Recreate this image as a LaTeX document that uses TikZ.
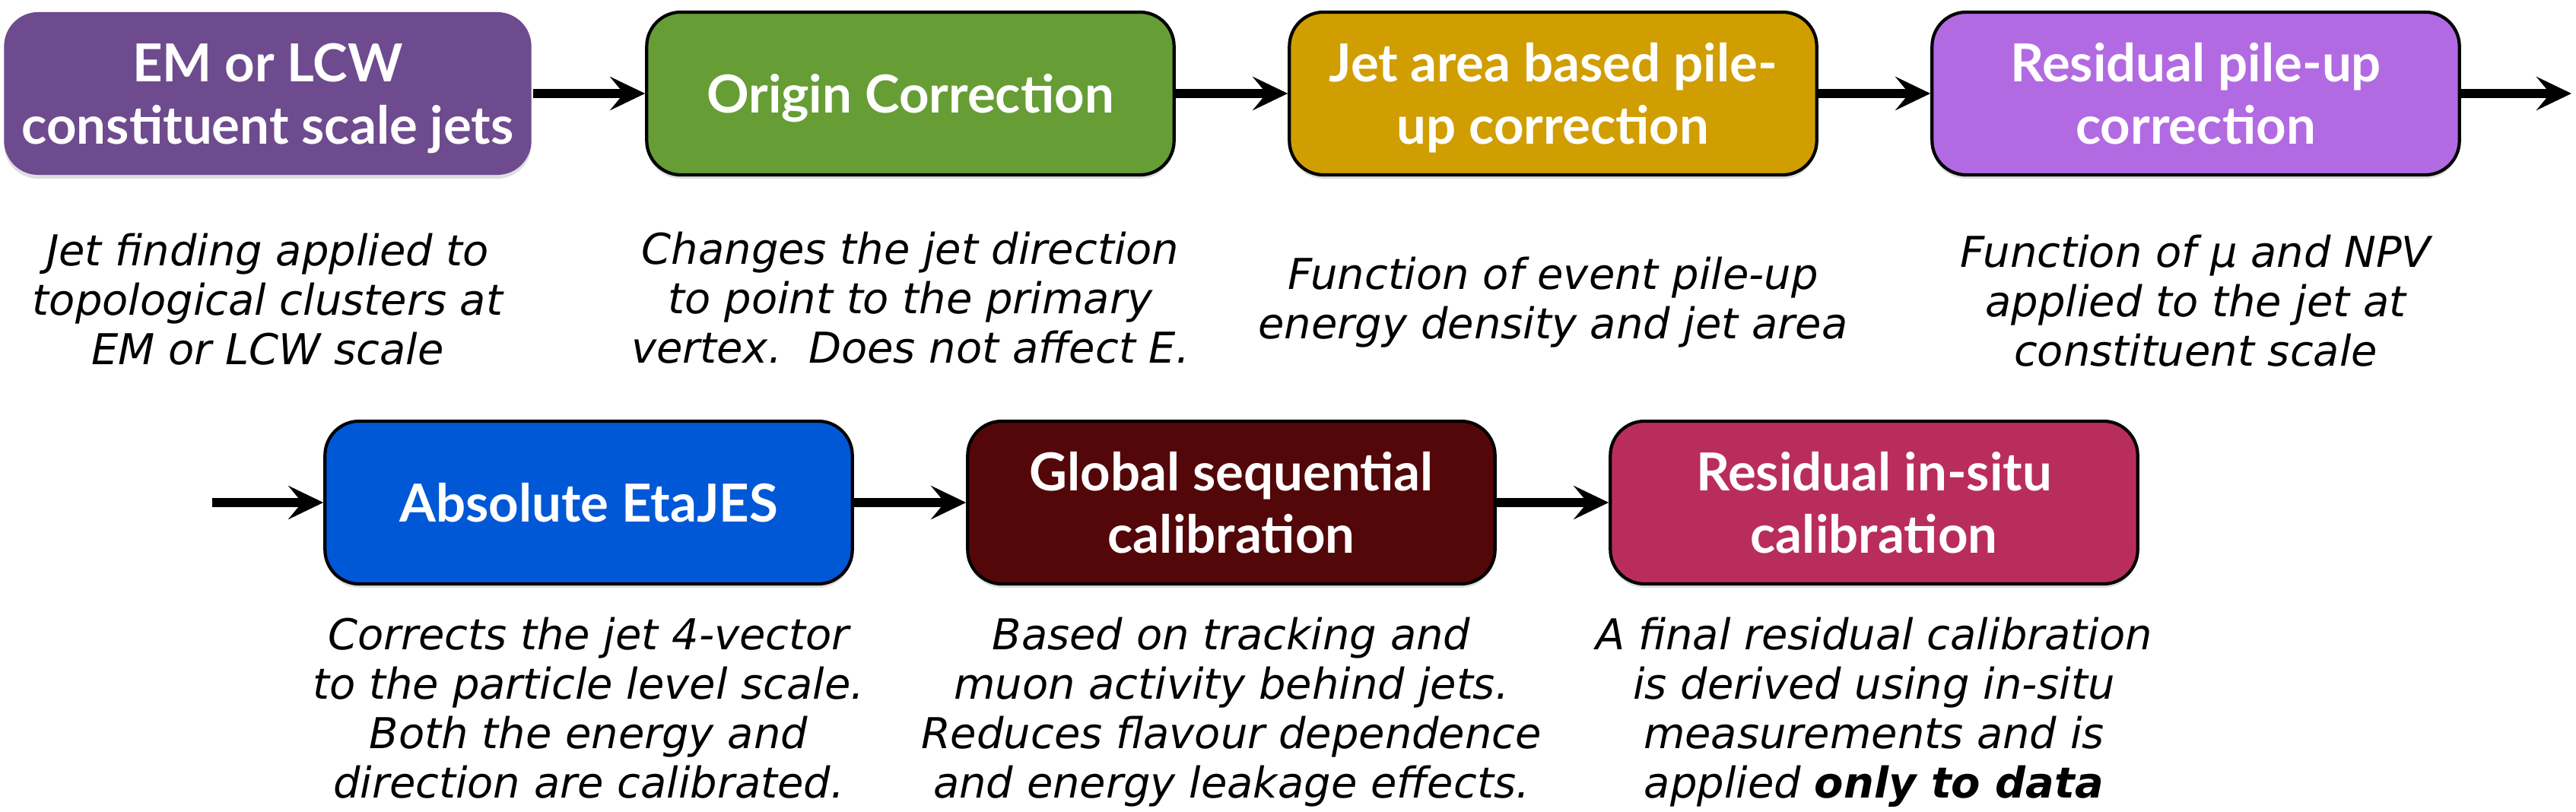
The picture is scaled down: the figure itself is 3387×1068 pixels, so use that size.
\documentclass[tikz,border=0pt]{standalone}
\usepackage{fontspec}
\setmainfont{DejaVu Sans}
\newfontfamily\titlefont{Lato}
\usetikzlibrary{arrows.meta,shadows}

\definecolor{emcol}{RGB}{110,74,142}
\definecolor{origcol}{RGB}{102,157,53}
\definecolor{areacol}{RGB}{208,158,0}
\definecolor{residcol}{RGB}{178,106,226}
\definecolor{abscol}{RGB}{0,88,214}
\definecolor{gsccol}{RGB}{83,7,9}
\definecolor{insitucol}{RGB}{185,45,92}

\tikzset{
 stage/.style={rectangle, rounded corners=0.45cm, minimum width=6.93cm, minimum height=2.14cm,
  inner sep=0pt, align=center, text=white, draw=black, line width=1.2pt, text depth=0pt,
  font=\titlefont\bfseries\fontsize{19.6pt}{23.3pt}\selectfont,
  drop shadow={opacity=0.25, shadow xshift=0pt, shadow yshift=-0.05cm}},
 note/.style={anchor=base, align=center, inner sep=0pt,
  font=\itshape\fontsize{15.9pt}{18.5pt}\selectfont},
 flow/.style={line width=3.4pt, -{Stealth[length=0.46cm, width=0.44cm, inset=0.18cm]}}
}

\begin{document}
\begin{tikzpicture}[x=0.01cm, y=-0.01cm]
\useasboundingbox (0,0) rectangle (3387,1068);
\def\d{845} \def\ya{123} \def\yb{661}

%row 1
\node[stage, fill=emcol, draw=none] (em) at (352,\ya) {EM or LCW\\constituent scale jets};
\node[stage, fill=origcol] (origin) at (352+\d,\ya) {Origin Correction};
\node[stage, fill=areacol] (area) at (352+2*\d,\ya) {Jet area based pile-\\up correction};
\node[stage, fill=residcol] (resid) at (352+3*\d,\ya) {Residual pile-up\\correction};
\coordinate (out) at (3381,\ya);

\node[note] (dem) at (352,480) {Jet finding applied to\\topological clusters at\\EM or LCW scale};
\node[note] (dorigin) at (352+\d,478) {Changes the jet direction\\to point to the primary\\vertex.\ \ Does not affect E.};
\node[note] (darea) at (352+2*\d,446) {Function of event pile-up\\energy density and jet area};
\node[note] (dresid) at (352+3*\d,482) {Function of μ and NPV\\applied to the jet at\\constituent scale};

%row 2
\coordinate (in) at (279,\yb);
\node[stage, fill=abscol] (abs) at (774,\yb) {Absolute EtaJES};
\node[stage, fill=gsccol] (gsc) at (774+\d,\yb) {Global sequential\\calibration};
\node[stage, fill=insitucol] (insitu) at (774+2*\d,\yb) {Residual in-situ\\calibration};

\node[note] (dabs) at (774,1050) {Corrects the jet 4-vector\\to the particle level scale.\\Both the energy and\\direction are calibrated.};
\node[note] (dgsc) at (774+\d,1050) {Based on tracking and\\muon activity behind jets.\\Reduces flavour dependence\\and energy leakage effects.};
\node[note] (dinsitu) at (774+2*\d,1050) {A final residual calibration\\is derived using in-situ\\measurements and is\\applied \textbf{only to data}};

\foreach \a/\b in {em/origin, origin/area, area/resid, resid/out, in/abs, abs/gsc, gsc/insitu}
 \draw[flow] (\a) -- (\b);

\end{tikzpicture}
\end{document}
